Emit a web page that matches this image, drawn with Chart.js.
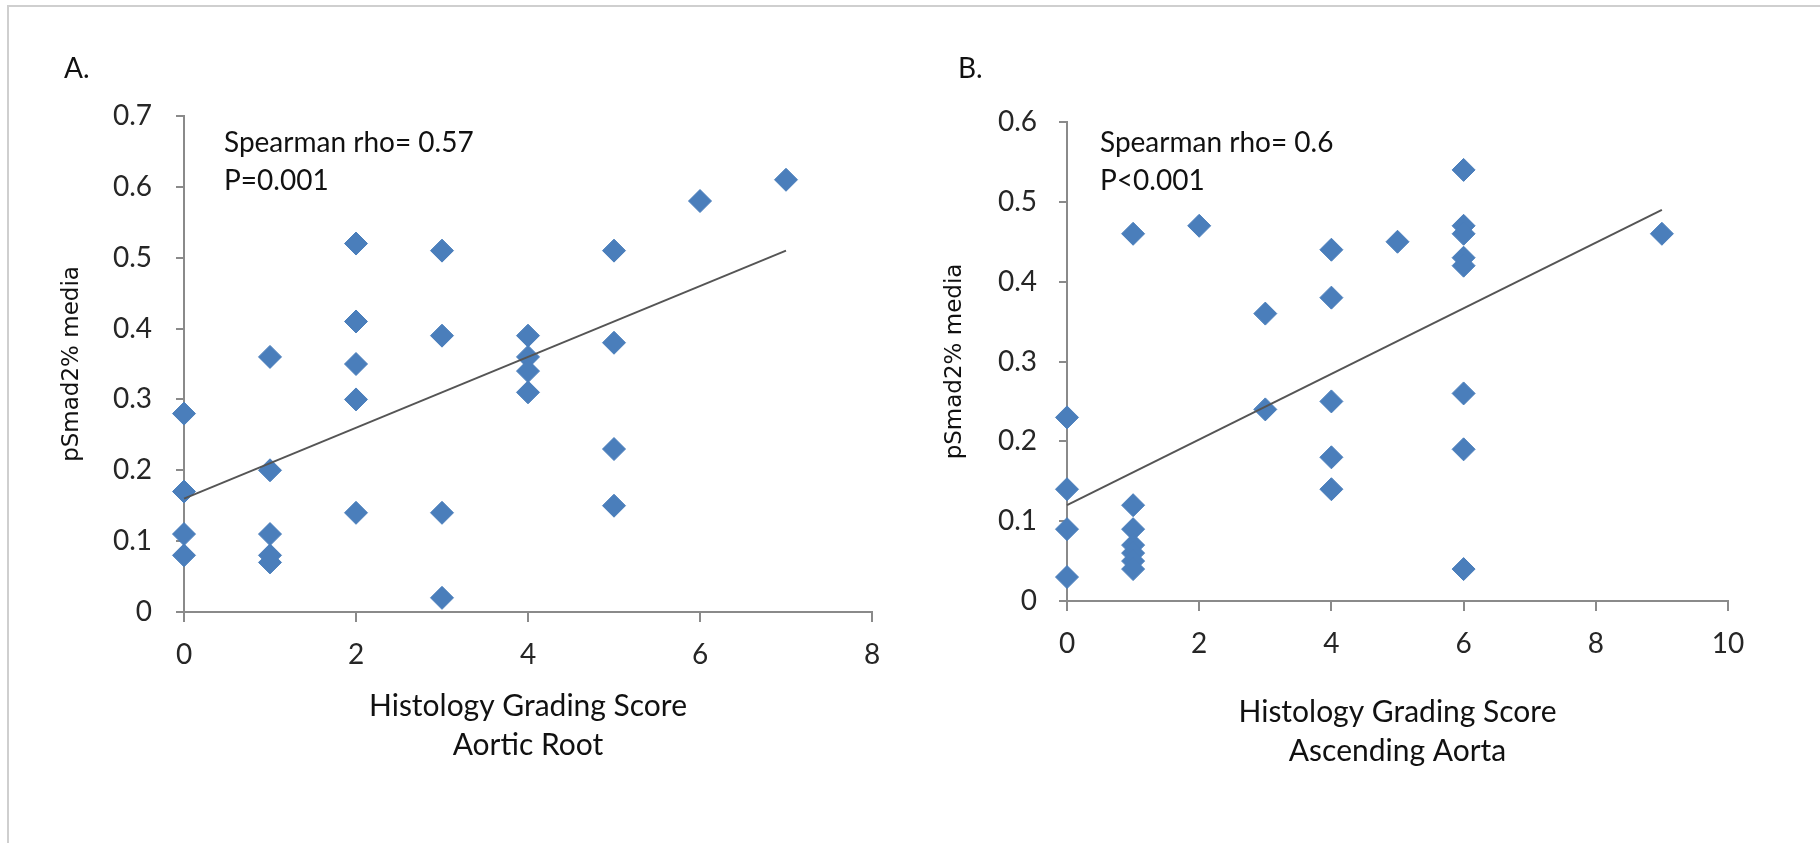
<!DOCTYPE html>
<html lang="en">
<head>
<meta charset="UTF-8">
<title>pSmad2% media vs Histology Grading Score</title>
<script src="https://cdn.jsdelivr.net/npm/chart.js@4.4.0/dist/chart.umd.min.js"></script>
<style>
  html, body { margin: 0; padding: 0; background: #fff; }
  body { width: 1820px; height: 843px; position: relative; overflow: hidden; }
  #frame {
    position: absolute; left: 7px; top: 5px; width: 1900px; height: 900px;
    border-left: 2px solid #cfcfcf; border-top: 2px solid #cfcfcf;
  }
  canvas { position: absolute; top: 0; }
  #chartA { left: 0; }
  #chartB { left: 910px; }
</style>
</head>
<body>
<div id="frame"></div>
<canvas id="chartA" width="910" height="843"></canvas>
<canvas id="chartB" width="910" height="843"></canvas>

<script>
// Panel A: Aortic Root
const scoreA = [0, 0, 0, 0, 1, 1, 1, 1, 1, 2, 2, 2, 2, 2, 3, 3, 3, 3, 4, 4, 4, 4, 5, 5, 5, 5, 6, 7];
const smadA = [0.28, 0.17, 0.11, 0.08, 0.36, 0.20, 0.11, 0.08, 0.07, 0.52, 0.41, 0.35, 0.30, 0.14,
               0.51, 0.39, 0.14, 0.02, 0.39, 0.36, 0.34, 0.31, 0.51, 0.38, 0.23, 0.15, 0.58, 0.61];
const trendXA = [0, 7];
const trendYA = [0.16, 0.51];
const xTicksA = [0, 2, 4, 6, 8];
const yTicksA = [0, 0.1, 0.2, 0.3, 0.4, 0.5, 0.6, 0.7];
const yLabelsA = ['0', '0.1', '0.2', '0.3', '0.4', '0.5', '0.6', '0.7'];
const noteA = ['Spearman rho= 0.57', 'P=0.001'];

// Panel B: Ascending Aorta
const scoreB = [0, 0, 0, 0, 1, 1, 1, 1, 1, 1, 1, 2, 3, 3, 4, 4, 4, 4, 4, 5, 6, 6, 6, 6, 6, 6, 6, 6, 9];
const smadB = [0.23, 0.14, 0.09, 0.03, 0.46, 0.12, 0.09, 0.07, 0.06, 0.05, 0.04, 0.47, 0.36, 0.24,
               0.44, 0.38, 0.25, 0.18, 0.14, 0.45, 0.54, 0.47, 0.46, 0.43, 0.42, 0.26, 0.19, 0.04, 0.46];
const trendXB = [0, 9];
const trendYB = [0.12, 0.49];
const xTicksB = [0, 2, 4, 6, 8, 10];
const yTicksB = [0, 0.1, 0.2, 0.3, 0.4, 0.5, 0.6];
const yLabelsB = ['0', '0.1', '0.2', '0.3', '0.4', '0.5', '0.6'];
const noteB = ['Spearman rho= 0.6', 'P<0.001'];

const BLUE = '#4A7EBB';
const AXIS = '#8a8a8a';
const TEXT = '#262626';
const FONT = 'Lato, "Open Sans", sans-serif';

// draws the panel letter and the correlation note
const notesPlugin = {
  id: 'notes',
  afterDraw(chart, args, opts) {
    const { ctx, chartArea } = chart;
    ctx.save();
    ctx.fillStyle = '#111';
    ctx.textBaseline = 'alphabetic';
    ctx.textAlign = 'left';
    ctx.font = '28px ' + FONT;
    ctx.fillText(opts.letter, opts.letterX, 78);
    opts.lines.forEach((t, i) => {
      ctx.fillText(t, chartArea.left + opts.dx, chartArea.top + opts.dy + i * 38);
    });
    ctx.restore();
  }
};

function makeChart(id, p) {
  const pts = p.xs.map((x, i) => ({ x: x, y: p.ys[i] }));
  const trend = p.tx.map((x, i) => ({ x: x, y: p.ty[i] }));
  return new Chart(document.getElementById(id), {
    type: 'scatter',
    data: {
      datasets: [
        {
          data: trend,
          showLine: true,
          borderColor: '#555555',
          borderWidth: 2,
          pointRadius: 0,
          clip: false
        },
        {
          data: pts,
          pointStyle: 'rectRot',
          pointRadius: 11.5,
          backgroundColor: BLUE,
          borderColor: BLUE,
          borderWidth: 1,
          clip: false
        }
      ]
    },
    options: {
      responsive: false,
      devicePixelRatio: 1,
      animation: false,
      layout: { padding: { left: 0, top: p.top, right: p.right, bottom: 0 } },
      plugins: {
        legend: { display: false },
        tooltip: { enabled: false },
        notes: { letter: p.letter, letterX: p.letterX, lines: p.note, dx: p.noteDx, dy: p.noteDy }
      },
      scales: {
        x: {
          type: 'linear',
          min: p.xTicks[0],
          max: p.xTicks[p.xTicks.length - 1],
          afterBuildTicks: ax => { ax.ticks = p.xTicks.map(v => ({ value: v })); },
          afterFit: ax => { ax.height = p.xH; },
          border: { display: true, color: AXIS, width: 2 },
          grid: { drawOnChartArea: false, drawTicks: true, tickLength: 10, color: AXIS, lineWidth: 2 },
          ticks: { color: TEXT, font: { family: FONT, size: 28 }, padding: 16, maxRotation: 0 },
          title: {
            display: true,
            text: ['Histology Grading Score', p.xTitle2],
            color: '#111',
            font: { family: FONT, size: 30, lineHeight: 1.3 },
            padding: { top: 0, bottom: p.xTitlePad }
          }
        },
        y: {
          type: 'linear',
          min: 0,
          max: p.yTicks[p.yTicks.length - 1],
          afterBuildTicks: ax => { ax.ticks = p.yTicks.map(v => ({ value: v })); },
          afterFit: ax => { ax.width = p.yW; },
          border: { display: true, color: AXIS, width: 2 },
          grid: { drawOnChartArea: false, drawTicks: true, tickLength: 8, color: AXIS, lineWidth: 2 },
          ticks: {
            color: TEXT,
            font: { family: FONT, size: 28 },
            padding: p.yTickPad,
            callback: (v) => p.yLabels[p.yTicks.findIndex(t => Math.abs(t - v) < 1e-9)]
          },
          title: {
            display: true,
            text: 'pSmad2% media',
            color: '#111',
            font: { family: '"DejaVu Sans", Verdana, sans-serif', size: 23, lineHeight: 1.2 },
            padding: { top: p.yTitlePad, bottom: 0 }
          }
        }
      }
    },
    plugins: [notesPlugin]
  });
}

makeChart('chartA', {
  xs: scoreA, ys: smadA, tx: trendXA, ty: trendYA,
  xTicks: xTicksA, yTicks: yTicksA, yLabels: yLabelsA,
  top: 116, right: 38, xH: 231, yW: 184,
  yTickPad: 24, yTitlePad: 58, xTitlePad: 78, xTitle2: 'Aortic Root',
  letter: 'A.', letterX: 64, note: noteA, noteDx: 40, noteDy: 36
});

makeChart('chartB', {
  xs: scoreB, ys: smadB, tx: trendXB, ty: trendYB,
  xTicks: xTicksB, yTicks: yTicksB, yLabels: yLabelsB,
  top: 122, right: 92, xH: 242, yW: 157,
  yTickPad: 22, yTitlePad: 31, xTitlePad: 72, xTitle2: 'Ascending Aorta',
  letter: 'B.', letterX: 48, note: noteB, noteDx: 33, noteDy: 30
});
</script>
</body>
</html>
